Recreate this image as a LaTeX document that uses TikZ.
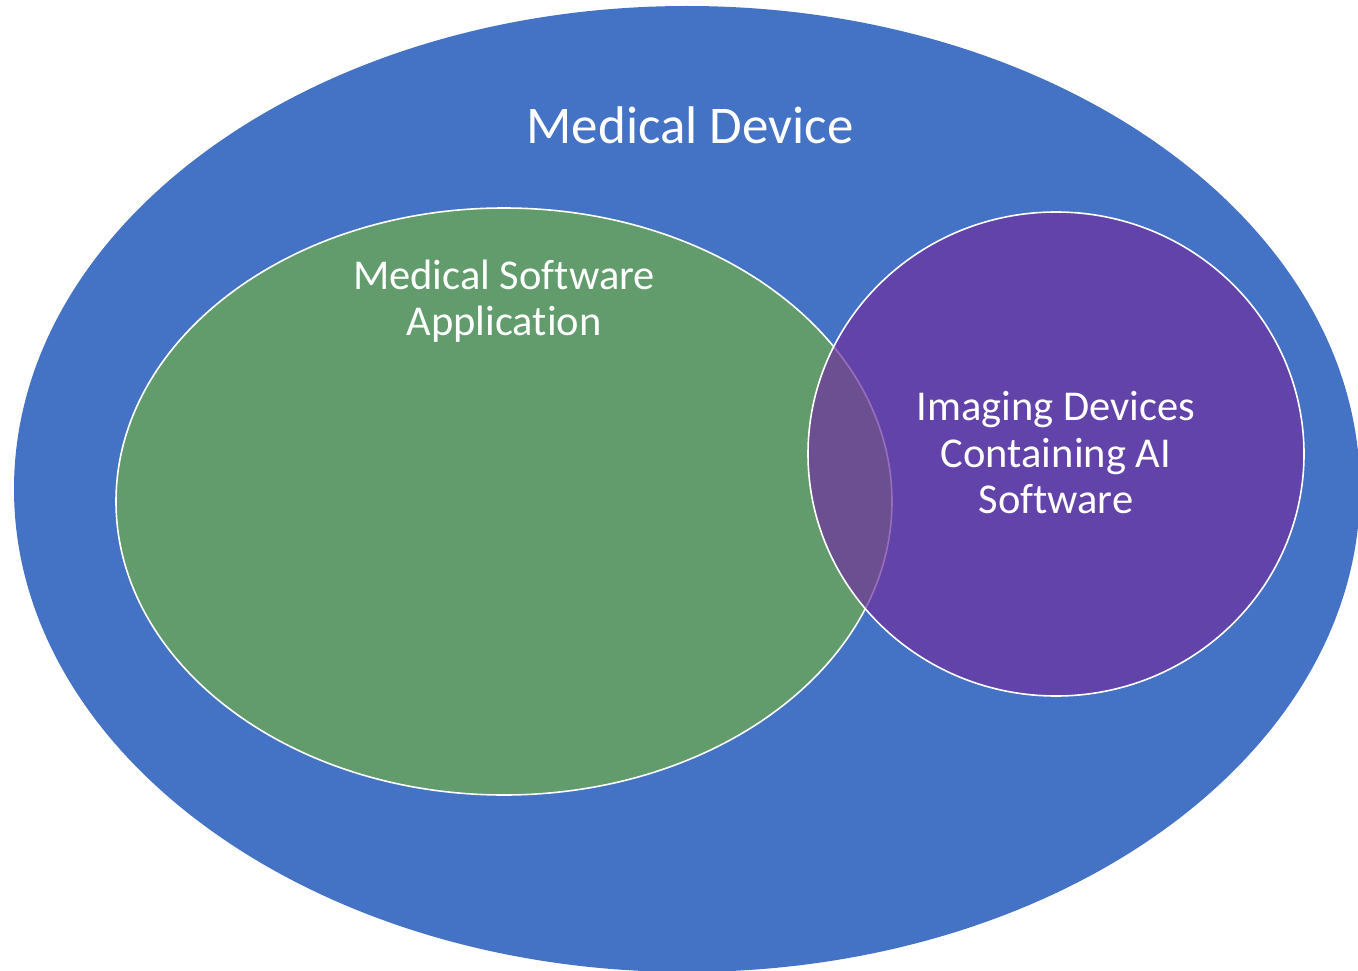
\documentclass[tikz,border=0pt]{standalone}
\usepackage{fontspec}
\setmainfont{Carlito}[Ligatures=NoCommon]
\usetikzlibrary{shapes.geometric}
\definecolor{deviceblue}{HTML}{4472C4}
\definecolor{softgreen}{HTML}{70AD47}
\definecolor{imgpurple}{HTML}{7030A0}

\begin{document}
\begin{tikzpicture}[x=1pt,y=-1pt,
  venn/.style={ellipse, inner sep=0pt, outer sep=0pt},
  inner set/.style={venn, draw=white, line width=1.6pt, fill opacity=0.7},
  settext/.style={text=white, align=center, font=\fontsize{42.5}{46.5}\selectfont}]
  \useasboundingbox (0,0) rectangle (1358,971);
  %outer set
  \node[venn, fill=deviceblue, minimum width=1346pt, minimum height=966pt] (device) at (687,489) {};
  %software and imaging sets
  \node[inner set, fill=softgreen, minimum width=776pt, minimum height=587pt] (software) at (504,501.5) {};
  \node[inner set, fill=imgpurple, minimum width=496pt, minimum height=484pt] (imaging) at (1056,454) {};
  %set names
  \node[settext, font=\fontsize{53}{63}\selectfont] (devicename) at (690,125) {Medical Device};
  \node[settext] (softwarename) at (504,301) {Medical Software\\Application};
  \node[settext] (imagingname) at (1056,453) {Imaging Devices\\Containing AI\\Software};
\end{tikzpicture}
\end{document}
